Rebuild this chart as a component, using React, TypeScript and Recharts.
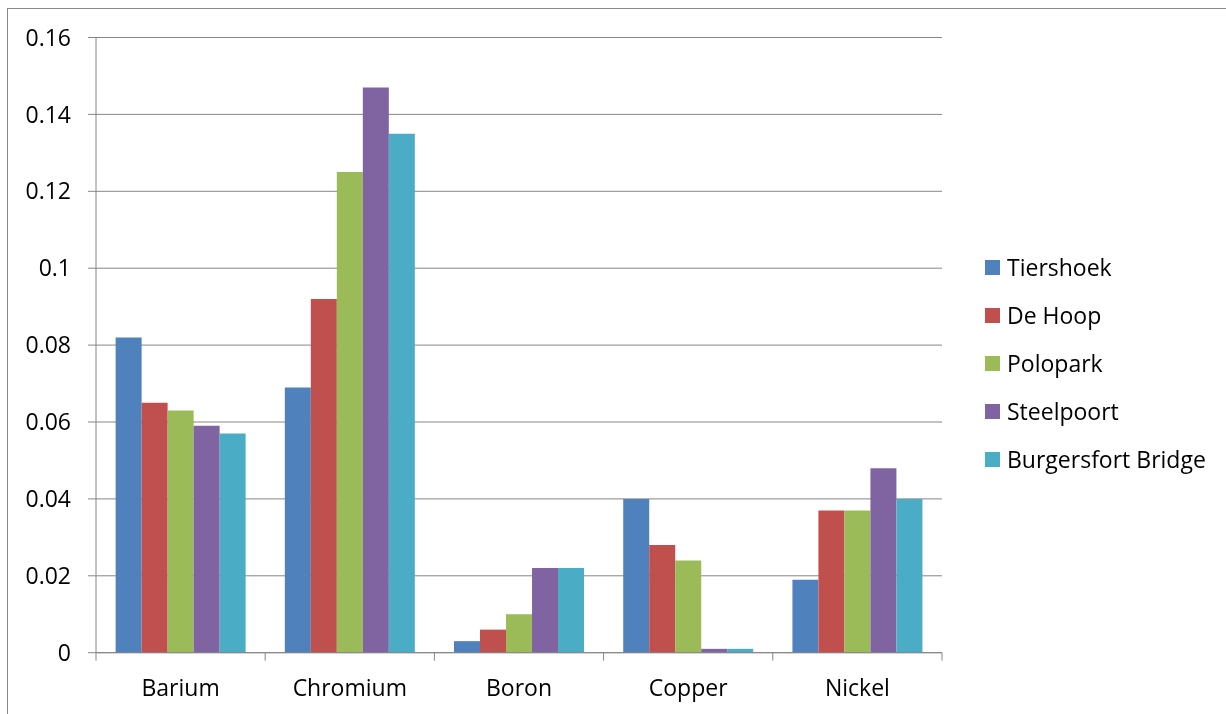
import React from "react";
import { BarChart, Bar, XAxis, YAxis, CartesianGrid, Legend } from "recharts";

const elements = ["Barium", "Chromium", "Boron", "Copper", "Nickel"];
const tiershoek = [0.082, 0.069, 0.003, 0.04, 0.019];
const deHoop = [0.065, 0.092, 0.006, 0.028, 0.037];
const polopark = [0.063, 0.125, 0.01, 0.024, 0.037];
const steelpoort = [0.059, 0.147, 0.022, 0.001, 0.048];
const burgersfort = [0.057, 0.135, 0.022, 0.001, 0.04];
const yTicks = [0, 0.02, 0.04, 0.06, 0.08, 0.1, 0.12, 0.14, 0.16];

const series = [
  { key: "tiershoek", name: "Tiershoek", color: "#4F81BD", values: tiershoek },
  { key: "deHoop", name: "De Hoop", color: "#C0504D", values: deHoop },
  { key: "polopark", name: "Polopark", color: "#9BBB59", values: polopark },
  { key: "steelpoort", name: "Steelpoort", color: "#8064A2", values: steelpoort },
  { key: "burgersfort", name: "Burgersfort Bridge", color: "#4BACC6", values: burgersfort },
];

const data = elements.map((el, i) => {
  const row: Record<string, string | number> = { element: el };
  series.forEach((s) => (row[s.key] = s.values[i]));
  return row;
});

const FONT = "'Open Sans', sans-serif";
const FONT_SIZE = 23;
const AXIS_GRAY = "#868686";

// category label centred in the band, tick marks on the band edges
function CategoryTick(props: any) {
  const { x, y, payload, index } = props;
  const half = payload?.offset ?? 84.6;
  const last = index === elements.length - 1;
  return (
    <g>
      <line x1={x - half} x2={x - half} y1={y} y2={y + 8} stroke={AXIS_GRAY} />
      {last && <line x1={x + half} x2={x + half} y1={y} y2={y + 8} stroke={AXIS_GRAY} />}
      <text
        x={x}
        y={y + 35}
        dy="0.36em"
        textAnchor="middle"
        fill="#000"
        fontFamily={FONT}
        fontSize={FONT_SIZE}
      >
        {payload.value}
      </text>
    </g>
  );
}

// keep legend entries in series order
function LegendList(props: any) {
  const items = [...(props.payload || [])].sort(
    (a: any, b: any) =>
      series.findIndex((s) => s.name === a.value) - series.findIndex((s) => s.name === b.value)
  );
  return (
    <div style={{ fontFamily: FONT, fontSize: FONT_SIZE, color: "#000" }}>
      {items.map((e: any) => (
        <div key={e.value} style={{ display: "flex", alignItems: "center", height: 48 }}>
          <span
            style={{ width: 15, height: 15, background: e.color, marginRight: 7, flexShrink: 0 }}
          />
          <span style={{ whiteSpace: "nowrap" }}>{e.value}</span>
        </div>
      ))}
    </div>
  );
}

export default function App() {
  return (
    <div style={{ position: "relative", fontFamily: FONT }}>
      <div
        style={{
          position: "fixed",
          left: 7,
          top: 8,
          width: 1400,
          height: 900,
          borderTop: "1px solid #898989",
          borderLeft: "1px solid #898989",
          pointerEvents: "none",
        }}
      />
      <BarChart
        width={1218}
        height={706}
        data={data}
        margin={{ top: 29.5, right: 284, bottom: 11.3, left: 0 }}
        barCategoryGap="11.6%"
        barGap={0}
      >
        <CartesianGrid vertical={false} stroke={AXIS_GRAY} />
        <XAxis
          dataKey="element"
          height={50}
          axisLine={{ stroke: AXIS_GRAY }}
          tickLine={false}
          tickSize={0}
          tickMargin={0}
          interval={0}
          tick={<CategoryTick />}
        />
        <YAxis
          width={88}
          domain={[0, 0.16]}
          ticks={yTicks}
          interval={0}
          axisLine={{ stroke: AXIS_GRAY }}
          tickLine={{ stroke: AXIS_GRAY }}
          tickSize={8}
          tickMargin={17}
          tick={{ fill: "#000", fontSize: FONT_SIZE, fontFamily: FONT }}
        />
        <Legend
          layout="vertical"
          align="center"
          verticalAlign="middle"
          content={<LegendList />}
          wrapperStyle={{ left: 977, top: 235, width: 240 }}
        />
        {series.map((s) => (
          <Bar key={s.key} dataKey={s.key} name={s.name} fill={s.color} isAnimationActive={false} />
        ))}
      </BarChart>
    </div>
  );
}
